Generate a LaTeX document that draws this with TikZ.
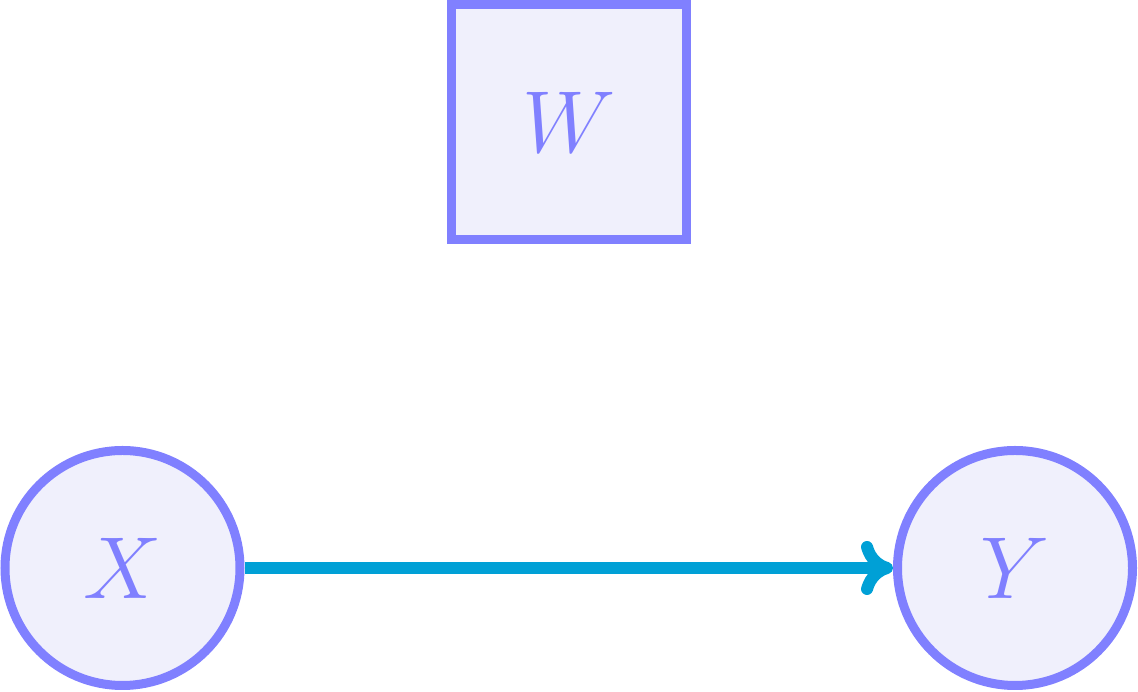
\documentclass[tikz,border=0pt]{standalone}
\usepackage{fix-cm}
\usetikzlibrary{positioning}
\usetikzlibrary{arrows.meta}
\definecolor{nodeline}{RGB}{128,128,255}
\definecolor{nodefill}{RGB}{240,240,252}
\definecolor{edgecol}{RGB}{0,160,214}
\begin{document}
\begin{tikzpicture}[
  varnode/.style={draw=nodeline, fill=nodefill, line width=9pt, text=nodeline,
    minimum size=235pt, inner sep=0pt, font=\fontsize{88}{100}\selectfont},
  causal/.style={draw=edgecol, line width=12pt,
    -{Computer Modern Rightarrow[length=32pt, width=54pt, line cap=round]}}
]
\useasboundingbox (-122.5pt,-124pt) rectangle (1015.5pt,568pt);
\node[varnode, circle](X) at (0,0){$X$};
\node[varnode, circle](Y)[right=648.5pt of X]{$Y$};
\path (X) -- (Y) coordinate[midway](mid);
\node[varnode, rectangle](W)[above=323.5pt of mid]{$W$};
\draw[causal](X)--(Y);
\end{tikzpicture}
\end{document}
